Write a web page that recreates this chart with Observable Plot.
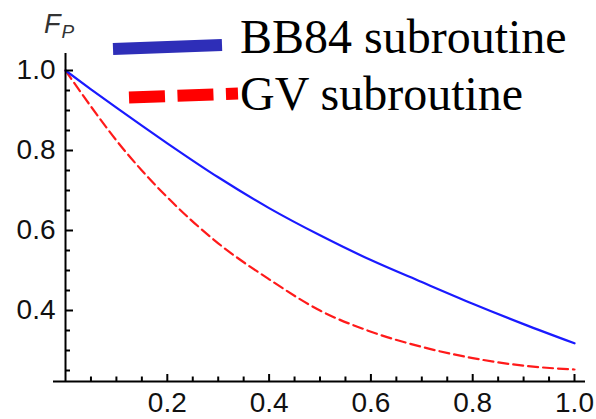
<!DOCTYPE html>
<html><head><meta charset="utf-8">
<script src="https://cdn.jsdelivr.net/npm/d3@7"></script>
<script src="https://cdn.jsdelivr.net/npm/@observablehq/plot@0.6"></script>
<style>body{margin:0;background:#fff}#chart{width:596px;height:419px}</style>
</head><body><div id="chart"></div>
<script>
// x values (noise parameter) and the two fidelity series
const xs   = [0, 0.05, 0.1, 0.15, 0.2, 0.3, 0.4, 0.5, 0.6, 0.7, 0.8, 0.9, 1.0];
const bb84 = [1.0, 0.953, 0.907, 0.862, 0.818, 0.733, 0.656, 0.588, 0.526, 0.471, 0.417, 0.366, 0.318];
const gv   = [1.0, 0.91, 0.825, 0.75, 0.683, 0.568, 0.478, 0.40, 0.347, 0.309, 0.281, 0.262, 0.2525];
const seriesNames = ["BB84 subroutine", "GV subroutine"];
const xTickLabels = [0.2, 0.4, 0.6, 0.8, 1.0];
const yTickLabels = [0.4, 0.6, 0.8, 1.0];
const xMinorTicks = [0.05,0.1,0.15,0.25,0.3,0.35,0.45,0.5,0.55,0.65,0.7,0.75,0.85,0.9,0.95];
const yMinorTicks = [0.25,0.3,0.35,0.45,0.5,0.55,0.65,0.7,0.75,0.85,0.9,0.95];

const W = 596, H = 419;
const mL = 53, mR = 11, mT = 53, mB = 38;
const xDom = [-0.0236, 1.0216], yDom = [0.2225, 1.0425];
const pxX = (W - mL - mR) / (xDom[1] - xDom[0]);
const pxY = (H - mT - mB) / (yDom[1] - yDom[0]);

const rows1 = xs.map((x, i) => ({x, y: bb84[i]}));
const rows2 = xs.map((x, i) => ({x, y: gv[i]}));
const font = "'Liberation Sans', Arial, Helvetica, sans-serif";

const svg = Plot.plot({
  width: W, height: H,
  marginLeft: mL, marginRight: mR, marginTop: mT, marginBottom: mB,
  style: {background: "#fff", overflow: "visible"},
  x: {domain: xDom, axis: null},
  y: {domain: yDom, axis: null},
  marks: [
    Plot.line(rows2, {x: "x", y: "y", stroke: "#ff1a1a", strokeWidth: 2.2, strokeDasharray: "10,5", curve: "monotone-x"}),
    Plot.line(rows1, {x: "x", y: "y", stroke: "#1a1aff", strokeWidth: 2.2, curve: "monotone-x"}),
    Plot.ruleY([yDom[0]], {stroke: "#000", strokeWidth: 2}),
    Plot.ruleX([0], {stroke: "#000", strokeWidth: 2}),
    Plot.ruleY(yTickLabels, {y: d => d, x1: 0, x2: 8 / pxX, stroke: "#000", strokeWidth: 2}),
    Plot.ruleY(yMinorTicks, {y: d => d, x1: 0, x2: 5 / pxX, stroke: "#000", strokeWidth: 2}),
    Plot.ruleX(xTickLabels, {x: d => d, y1: yDom[0], y2: yDom[0] + 7 / pxY, stroke: "#000", strokeWidth: 2}),
    Plot.ruleX(xMinorTicks, {x: d => d, y1: yDom[0], y2: yDom[0] + 4.5 / pxY, stroke: "#000", strokeWidth: 2}),
    Plot.text(yTickLabels, {x: 0, y: d => d, text: d => d.toFixed(1), dx: -10, textAnchor: "end", lineAnchor: "middle", fontSize: 28, fontFamily: font, fill: "#111"}),
    Plot.text(xTickLabels, {x: d => d, y: yDom[0], text: d => d.toFixed(1), dy: 11, textAnchor: "middle", lineAnchor: "top", fontSize: 28, fontFamily: font, fill: "#111"})
  ]
});

const s = d3.select(svg);
// axis label F_P
const lab = s.append("text").attr("x", 44).attr("y", 33).attr("text-anchor", "start")
  .attr("font-family", font).attr("font-style", "italic").attr("font-size", 27).attr("fill", "#333");
lab.append("tspan").text("F");
lab.append("tspan").attr("font-size", 19).attr("dy", 5).attr("dx", 1).text("P");

// legend keys
s.append("line").attr("x1", 113).attr("y1", 49).attr("x2", 222).attr("y2", 45)
  .attr("stroke", "#2e2eb8").attr("stroke-width", 12);
s.append("line").attr("x1", 129).attr("y1", 97.5).attr("x2", 238).attr("y2", 93.5)
  .attr("stroke", "#ff0000").attr("stroke-width", 12).attr("stroke-dasharray", "36,12.5");
const serif = "'Liberation Serif', 'Times New Roman', serif";
s.append("text").attr("x", 240).attr("y", 53).attr("text-anchor", "start").attr("font-family", serif).attr("font-size", 48).attr("fill", "#000").text(seriesNames[0]);
s.append("text").attr("x", 240).attr("y", 110).attr("text-anchor", "start").attr("font-family", serif).attr("font-size", 48).attr("fill", "#000").text(seriesNames[1]);

document.getElementById("chart").append(svg);
</script>
</body></html>
